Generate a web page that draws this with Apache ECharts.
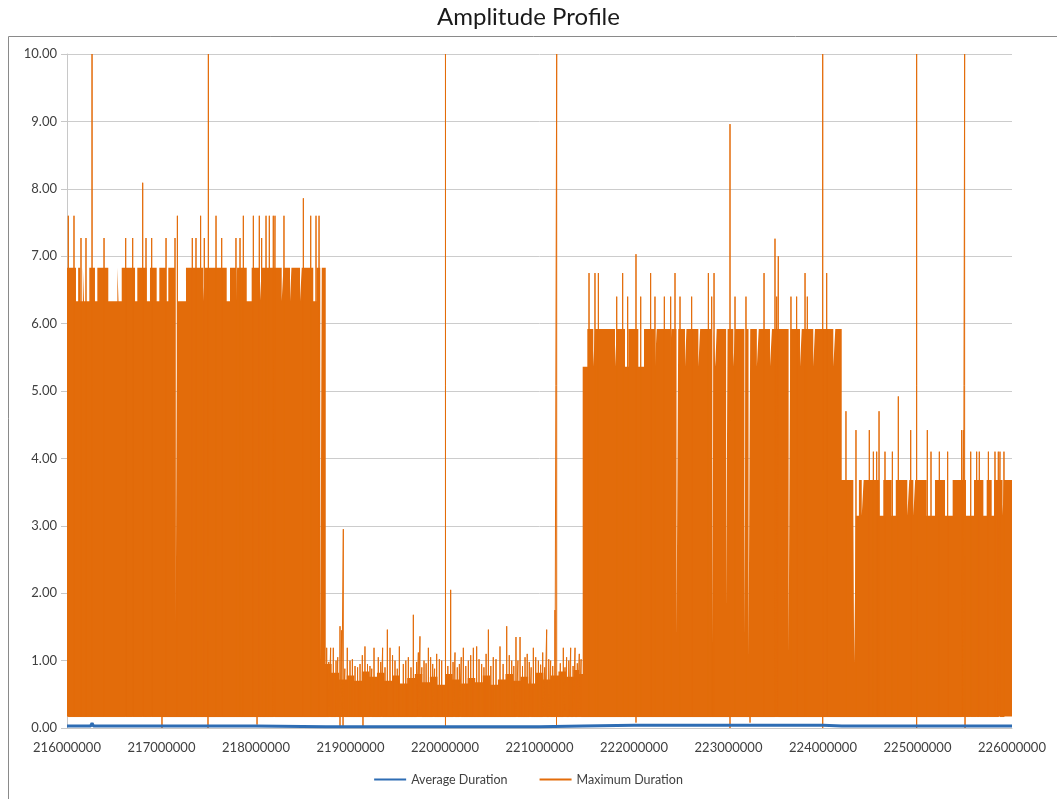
<!DOCTYPE html>
<html>
<head>
<meta charset="utf-8">
<title>Amplitude Profile</title>
<script src="https://cdn.jsdelivr.net/npm/echarts@6/dist/echarts.min.js"></script>
<style>
    html, body {margin: 0; padding: 0; background: #fff;}
    #chart {width: 1057px; height: 799px;}
</style>
</head>
<body>
<div id="chart"></div>
<script>
// x positions are in millions, values in the y unit
const xTicks = [216, 217, 218, 219, 220, 221, 222, 223, 224, 225, 226]

const avgDuration = [
    [216.000, 0.03], [216.250, 0.03], [216.265, 0.07], [216.280, 0.03], [217.000, 0.03],
    [218.000, 0.03], [218.740, 0.02], [219.500, 0.02], [220.000, 0.02], [221.000, 0.02],
    [221.460, 0.03], [222.000, 0.04], [223.000, 0.04], [224.000, 0.04], [224.200, 0.03],
    [225.000, 0.03], [226.000, 0.03]
]

// lower edge of the dense max duration band
const maxFloor = 0.17

// upper edge of the dense band, held until the next point
const maxSeg1 = [
    [216.000, 6.83], [216.095, 6.33], [216.118, 6.83], [216.140, 6.33], [216.168, 6.83],
    [216.180, 6.33], [216.236, 6.83], [216.296, 6.33], [216.321, 6.83], [216.437, 6.33],
    [216.533, 6.83], [216.545, 6.33], [216.579, 6.83], [216.720, 6.33], [216.744, 6.83],
    [216.843, 6.33], [216.878, 6.83], [216.949, 6.33], [216.977, 6.83], [217.048, 6.33],
    [217.072, 6.83], [217.143, 6.33], [217.150, 1.56], [217.168, 6.33], [217.259, 6.83],
    [217.442, 6.33], [217.460, 6.83], [217.690, 6.33], [217.725, 6.83], [217.790, 6.33],
    [217.800, 6.83], [217.902, 6.33], [217.954, 6.83], [218.042, 6.33], [218.060, 6.83],
    [218.272, 6.33], [218.290, 6.83], [218.360, 6.33], [218.375, 6.83], [218.466, 6.33],
    [218.484, 6.83], [218.606, 6.33], [218.640, 6.83], [218.680, 0.93], [218.696, 6.83]
]
const maxSeg2 = [
    [218.738, 0.95], [218.800, 0.82], [218.880, 0.72], [218.960, 0.78], [219.040, 0.70],
    [219.120, 0.84], [219.200, 0.76], [219.280, 0.82], [219.360, 0.70], [219.440, 0.78],
    [219.520, 0.66], [219.600, 0.74], [219.680, 0.80], [219.760, 0.68], [219.840, 0.76],
    [219.920, 0.64], [220.000, 0.80], [220.080, 0.72], [220.160, 0.66], [220.240, 0.74],
    [220.320, 0.68], [220.400, 0.78], [220.480, 0.64], [220.560, 0.72], [220.640, 0.80],
    [220.720, 0.70], [220.800, 0.76], [220.880, 0.66], [220.960, 0.82], [221.040, 0.72],
    [221.120, 0.78], [221.200, 0.84], [221.280, 0.76], [221.360, 0.86], [221.420, 0.80]
]
const maxSeg3 = [
    [221.457, 5.36], [221.506, 5.92], [221.569, 5.36], [221.587, 5.92], [221.799, 5.36],
    [221.817, 5.92], [221.905, 5.36], [221.940, 5.92], [222.046, 5.36], [222.106, 5.92],
    [222.222, 5.36], [222.240, 5.92], [222.381, 5.36], [222.395, 5.92], [222.450, 1.35],
    [222.468, 5.92], [222.540, 5.36], [222.555, 5.92], [222.681, 5.36], [222.700, 5.92],
    [222.825, 1.08], [222.843, 5.92], [222.860, 5.36], [222.875, 5.92], [222.975, 1.78],
    [222.990, 5.92], [223.051, 5.36], [223.070, 5.92], [223.168, 1.35], [223.183, 5.92],
    [223.212, 1.04], [223.230, 5.92], [223.300, 5.36], [223.320, 5.92], [223.439, 5.36],
    [223.460, 5.92], [223.636, 1.08], [223.654, 5.92], [223.757, 5.36], [223.775, 5.92],
    [223.897, 5.36], [223.915, 5.92], [224.109, 5.36], [224.130, 5.92]
]
const maxSeg4 = [
    [224.198, 3.68], [224.321, 3.15], [224.330, 0.96], [224.348, 3.15], [224.380, 3.68],
    [224.410, 3.15], [224.430, 3.68], [224.596, 3.15], [224.638, 3.68], [224.727, 3.15],
    [224.770, 3.68], [224.892, 3.15], [224.913, 3.68], [224.956, 3.15], [224.975, 3.68],
    [225.097, 3.15], [225.185, 3.68], [225.291, 3.15], [225.372, 3.68], [225.513, 3.15],
    [225.598, 3.68], [225.697, 3.15], [225.732, 3.68], [225.785, 3.15], [225.810, 3.68],
    [225.900, 3.15], [225.915, 3.68], [226.000, 3.68]
]

// single samples that stick out above the band
const maxSpikes = [
    [216.014, 7.60], [216.074, 7.60], [216.148, 7.27], [216.201, 7.27], [216.265, 10.0],
    [216.392, 7.27], [216.621, 7.27], [216.695, 7.27], [216.801, 8.09], [216.836, 7.27],
    [216.896, 7.27], [217.048, 7.27], [217.143, 7.27], [217.168, 7.60], [217.326, 7.27],
    [217.365, 7.27], [217.414, 7.60], [217.453, 7.27], [217.496, 10.0], [217.577, 7.60],
    [217.637, 7.27], [217.788, 7.27], [217.831, 7.27], [217.866, 7.60], [217.972, 7.60],
    [218.035, 7.60], [218.060, 7.27], [218.106, 7.60], [218.141, 7.60], [218.183, 7.60],
    [218.201, 7.60], [218.296, 7.60], [218.501, 7.86], [218.579, 7.60], [218.635, 7.60],
    [218.667, 7.60],
    [218.748, 1.19], [218.770, 0.98], [218.790, 1.19], [218.818, 1.19], [218.847, 1.00],
    [218.865, 1.05], [218.889, 1.51], [218.907, 1.45], [218.924, 2.95], [218.940, 0.88],
    [218.966, 1.19], [218.995, 1.00], [219.020, 1.02], [219.048, 0.92], [219.075, 0.90],
    [219.101, 0.95], [219.125, 1.08], [219.153, 1.21], [219.180, 0.95], [219.206, 0.92],
    [219.225, 0.88], [219.249, 1.19], [219.294, 1.05], [219.320, 0.98], [219.340, 1.19],
    [219.365, 0.90], [219.390, 1.46], [219.418, 1.19], [219.445, 1.08], [219.471, 1.00],
    [219.495, 0.88], [219.517, 1.21], [219.559, 0.95], [219.585, 1.00], [219.612, 1.05],
    [219.640, 0.90], [219.665, 1.68], [219.700, 0.98], [219.718, 1.12], [219.735, 1.36],
    [219.755, 0.90], [219.778, 1.00], [219.800, 0.96], [219.824, 1.19], [219.848, 1.05],
    [219.870, 0.95], [219.890, 0.88], [219.912, 1.10], [219.940, 1.02], [219.965, 1.00],
    [220.005, 10.0], [220.030, 0.92], [220.060, 2.05], [220.085, 0.98], [220.106, 1.12],
    [220.130, 0.90], [220.152, 0.95], [220.172, 1.05], [220.194, 1.19], [220.220, 0.92],
    [220.247, 1.00], [220.272, 1.08], [220.300, 1.19], [220.335, 1.21], [220.360, 1.02],
    [220.388, 0.95], [220.412, 0.90], [220.435, 1.10], [220.459, 1.46], [220.485, 0.92],
    [220.511, 1.05], [220.540, 1.02], [220.582, 1.21], [220.615, 0.95], [220.653, 1.51],
    [220.680, 1.08], [220.706, 1.00], [220.728, 0.92], [220.751, 1.35], [220.772, 1.00],
    [220.794, 1.35], [220.820, 0.92], [220.847, 1.05], [220.870, 1.10], [220.892, 0.98],
    [220.912, 0.90], [220.935, 1.19], [220.960, 1.05], [220.988, 1.00], [221.012, 0.94],
    [221.034, 1.12], [221.055, 0.90], [221.076, 1.46], [221.098, 1.02], [221.118, 1.00],
    [221.140, 0.92], [221.164, 1.75], [221.182, 10.0], [221.220, 0.96], [221.252, 1.19],
    [221.270, 0.90], [221.287, 1.05], [221.310, 1.00], [221.330, 1.19], [221.355, 0.92],
    [221.376, 1.19], [221.400, 0.96], [221.421, 1.10], [221.440, 1.02],
    [221.524, 6.75], [221.587, 6.75], [221.623, 6.75], [221.817, 6.40], [221.880, 6.75],
    [221.933, 6.40], [222.021, 7.03], [222.071, 6.40], [222.176, 6.75], [222.222, 6.40],
    [222.321, 6.40], [222.388, 6.40], [222.434, 6.75], [222.487, 6.40], [222.610, 6.40],
    [222.787, 6.75], [222.822, 6.40], [222.847, 6.75], [223.016, 8.96], [223.069, 6.40],
    [223.185, 6.40], [223.376, 6.75], [223.492, 7.26], [223.510, 6.40], [223.527, 7.00],
    [223.661, 6.40], [223.721, 6.40], [223.810, 6.75], [223.834, 6.40], [223.997, 10.0],
    [224.039, 6.75],
    [224.243, 4.70], [224.349, 4.42], [224.490, 4.42], [224.533, 4.10], [224.568, 4.10],
    [224.593, 4.70], [224.656, 4.10], [224.734, 4.10], [224.797, 4.92], [224.928, 4.42],
    [224.991, 10.0], [225.104, 4.42], [225.143, 4.10], [225.231, 4.10], [225.319, 4.10],
    [225.467, 4.42], [225.485, 4.42], [225.499, 10.0], [225.563, 4.10], [225.626, 4.10],
    [225.654, 4.10], [225.750, 4.10], [225.820, 4.10], [225.855, 4.10], [225.873, 4.10],
    [225.915, 4.10]
]

// single samples that drop below the band
const maxDips = [
    [217.005, 0.00], [217.492, 0.00], [218.011, 0.05], [218.889, 0.00], [218.921, 0.00],
    [219.132, 0.02], [220.005, 0.00], [221.180, 0.00], [222.021, 0.08], [223.016, 0.00],
    [223.228, 0.08], [223.997, 0.00], [224.991, 0.00], [225.503, 0.00]
]

const MILLION = 1000000
const ORANGE = '#e36c0a'
const BLUE = '#2e6db4'
const FONT = 'Lato, "Open Sans", sans-serif'

const toXY = p => [p[0] * MILLION, p[1]]

const getOption = () => {
    const band = [].concat(maxSeg1, maxSeg2, maxSeg3, maxSeg4).map(toXY)

    // every spike / dip is a vertical stroke from the band floor and back
    const strokes = (list) => {
        const out = []
        list.forEach(p => {
            const x = p[0] * MILLION
            out.push([x, maxFloor], [x, p[1]], [x, maxFloor])
        })
        return out
    }

    return {
        animation: false,
        backgroundColor: '#fff',
        title: {
            text: 'Amplitude Profile',
            left: 'center',
            top: 0,
            textStyle: {
                fontFamily: FONT,
                fontSize: 24,
                fontWeight: 'normal',
                color: '#1a1a1a'
            }
        },
        legend: {
            data: ['Average Duration', 'Maximum Duration'],
            bottom: 8,
            left: 'center',
            icon: 'rect',
            itemWidth: 32,
            itemHeight: 2,
            itemGap: 32,
            textStyle: {fontFamily: FONT, fontSize: 12.5, color: '#404040'}
        },
        grid: {
            left: 67,
            right: 45,
            top: 54,
            bottom: 71
        },
        xAxis: {
            type: 'value',
            min: xTicks[0] * MILLION,
            max: xTicks[xTicks.length - 1] * MILLION,
            interval: MILLION,
            axisLine: {show: true, lineStyle: {color: '#c8c8c8'}},
            axisTick: {show: false},
            splitLine: {show: false},
            axisLabel: {
                margin: 13,
                fontFamily: FONT,
                fontSize: 13,
                color: '#404040',
                formatter: v => String(Math.round(v))
            }
        },
        yAxis: {
            type: 'value',
            min: 0,
            max: 10,
            interval: 1,
            axisLine: {show: true, lineStyle: {color: '#c8c8c8'}},
            axisTick: {show: true, length: 6, lineStyle: {color: '#c8c8c8'}},
            splitLine: {lineStyle: {color: '#cccccc'}},
            axisLabel: {
                margin: 10,
                fontFamily: FONT,
                fontSize: 13,
                color: '#404040',
                formatter: v => v.toFixed(2)
            }
        },
        series: [
            {
                name: 'Maximum Duration',
                type: 'line',
                step: 'end',
                symbol: 'none',
                silent: true,
                color: ORANGE,
                lineStyle: {width: 0},
                areaStyle: {color: ORANGE, opacity: 1, origin: maxFloor},
                data: band
            },
            {
                name: 'Maximum Duration',
                type: 'line',
                symbol: 'none',
                silent: true,
                color: ORANGE,
                lineStyle: {width: 1, color: ORANGE},
                data: strokes(maxSpikes)
            },
            {
                name: 'Maximum Duration',
                type: 'line',
                symbol: 'none',
                silent: true,
                color: ORANGE,
                lineStyle: {width: 1, color: ORANGE},
                data: strokes(maxDips)
            },
            {
                name: 'Average Duration',
                type: 'line',
                symbol: 'none',
                silent: true,
                color: BLUE,
                z: 3,
                lineStyle: {width: 3, color: BLUE},
                data: avgDuration.map(toXY)
            }
        ],
        graphic: [
            {
                type: 'rect',
                silent: true,
                shape: {x: 8.5, y: 36.5, width: 1100, height: 800},
                style: {fill: 'none', stroke: '#8a8a8a', lineWidth: 1}
            }
        ]
    }
}

const chart = echarts.init(document.getElementById('chart'))
chart.setOption(getOption())
window.addEventListener('resize', () => chart.resize())
</script>
</body>
</html>
